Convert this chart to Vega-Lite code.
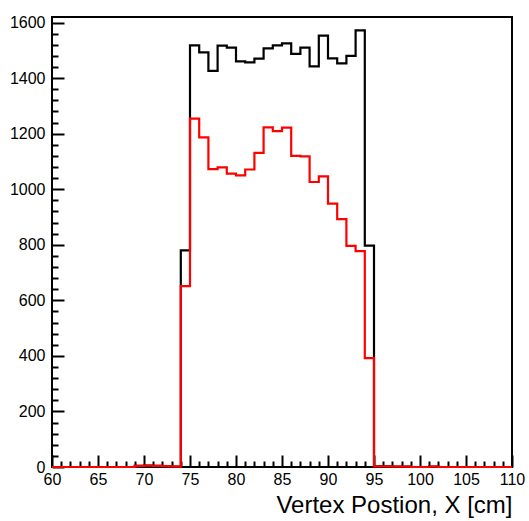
{
  "$schema": "https://vega.github.io/schema/vega-lite/v6.json",
  "width": 460,
  "height": 450,
  "autosize": "none",
  "padding": {"left": 52, "top": 17, "right": 17, "bottom": 54},
  "background": "white",
  "config": {
    "view": {"stroke": "black", "strokeWidth": 2},
    "font": "Liberation Sans",
    "axis": {
      "labelFont": "Liberation Sans",
      "labelFontSize": 16,
      "labelColor": "black",
      "labelOverlap": false,
      "labelFlush": false,
      "domain": false,
      "grid": false,
      "tickColor": "black",
      "tickWidth": 2
    }
  },
  "data": {
    "values": [
      {"x": 60, "all": 0, "sel": 0},
      {"x": 61, "all": 0, "sel": 0},
      {"x": 62, "all": 0, "sel": 0},
      {"x": 63, "all": 0, "sel": 0},
      {"x": 64, "all": 0, "sel": 0},
      {"x": 65, "all": 0, "sel": 0},
      {"x": 66, "all": 0, "sel": 0},
      {"x": 67, "all": 0, "sel": 0},
      {"x": 68, "all": 0, "sel": 0},
      {"x": 69, "all": 4, "sel": 4},
      {"x": 70, "all": 5, "sel": 5},
      {"x": 71, "all": 4, "sel": 4},
      {"x": 72, "all": 3, "sel": 3},
      {"x": 73, "all": 1, "sel": 1},
      {"x": 74, "all": 780, "sel": 651},
      {"x": 75, "all": 1518, "sel": 1254},
      {"x": 76, "all": 1493, "sel": 1187},
      {"x": 77, "all": 1426, "sel": 1072},
      {"x": 78, "all": 1517, "sel": 1079},
      {"x": 79, "all": 1510, "sel": 1056},
      {"x": 80, "all": 1460, "sel": 1050},
      {"x": 81, "all": 1457, "sel": 1071},
      {"x": 82, "all": 1470, "sel": 1131},
      {"x": 83, "all": 1507, "sel": 1223},
      {"x": 84, "all": 1518, "sel": 1209},
      {"x": 85, "all": 1525, "sel": 1222},
      {"x": 86, "all": 1487, "sel": 1120},
      {"x": 87, "all": 1510, "sel": 1118},
      {"x": 88, "all": 1442, "sel": 1026},
      {"x": 89, "all": 1553, "sel": 1046},
      {"x": 90, "all": 1471, "sel": 948},
      {"x": 91, "all": 1453, "sel": 892},
      {"x": 92, "all": 1480, "sel": 796},
      {"x": 93, "all": 1572, "sel": 777},
      {"x": 94, "all": 797, "sel": 392},
      {"x": 95, "all": 2, "sel": 2},
      {"x": 96, "all": 2, "sel": 2},
      {"x": 97, "all": 1, "sel": 1},
      {"x": 98, "all": 1, "sel": 1},
      {"x": 99, "all": 0, "sel": 0},
      {"x": 100, "all": 0, "sel": 0},
      {"x": 101, "all": 1, "sel": 1},
      {"x": 102, "all": 0, "sel": 0},
      {"x": 103, "all": 0, "sel": 0},
      {"x": 104, "all": 0, "sel": 0},
      {"x": 105, "all": 0, "sel": 0},
      {"x": 106, "all": 0, "sel": 0},
      {"x": 107, "all": 0, "sel": 0},
      {"x": 108, "all": 0, "sel": 0},
      {"x": 109, "all": 0, "sel": 0},
      {"x": 110, "all": 0, "sel": 0}
    ]
  },
  "transform": [{"fold": ["all", "sel"], "as": ["series", "count"]}],
  "mark": {"type": "line", "interpolate": "step-after", "strokeWidth": 2.2},
  "encoding": {
    "x": {
      "field": "x",
      "type": "quantitative",
      "scale": {"domain": [60, 110], "nice": false, "zero": false},
      "axis": {
        "title": "Vertex Postion, X [cm]",
        "titleFont": "Liberation Sans",
        "titleFontSize": 24,
        "titleFontWeight": "normal",
        "titleColor": "black",
        "titleAnchor": "end",
        "titlePadding": 0,
        "values": [60,61,62,63,64,65,66,67,68,69,70,71,72,73,74,75,76,77,78,79,80,81,82,83,84,85,86,87,88,89,90,91,92,93,94,95,96,97,98,99,100,101,102,103,104,105,106,107,108,109,110],
        "labelExpr": "datum.value % 5 === 0 ? datum.label : ''",
        "labelOverlap": false,
        "labelFontSize": 16,
        "labelPadding": 16,
        "tickSize": {"condition": {"test": "datum.value % 5 === 0", "value": -12}, "value": -6}
      }
    },
    "y": {
      "field": "count",
      "type": "quantitative",
      "scale": {"domain": [0, 1620], "nice": false},
      "axis": {
        "title": null,
        "values": [0,40,80,120,160,200,240,280,320,360,400,440,480,520,560,600,640,680,720,760,800,840,880,920,960,1000,1040,1080,1120,1160,1200,1240,1280,1320,1360,1400,1440,1480,1520,1560,1600],
        "labelExpr": "datum.value % 200 === 0 ? datum.label : ''",
        "format": "d",
        "labelOverlap": false,
        "labelFontSize": 16,
        "labelPadding": 19,
        "tickSize": {"condition": {"test": "datum.value % 200 === 0", "value": -12}, "value": -6}
      }
    },
    "color": {
      "field": "series",
      "type": "nominal",
      "scale": {"domain": ["all", "sel"], "range": ["black", "#ff0000"]},
      "legend": null
    }
  }
}
